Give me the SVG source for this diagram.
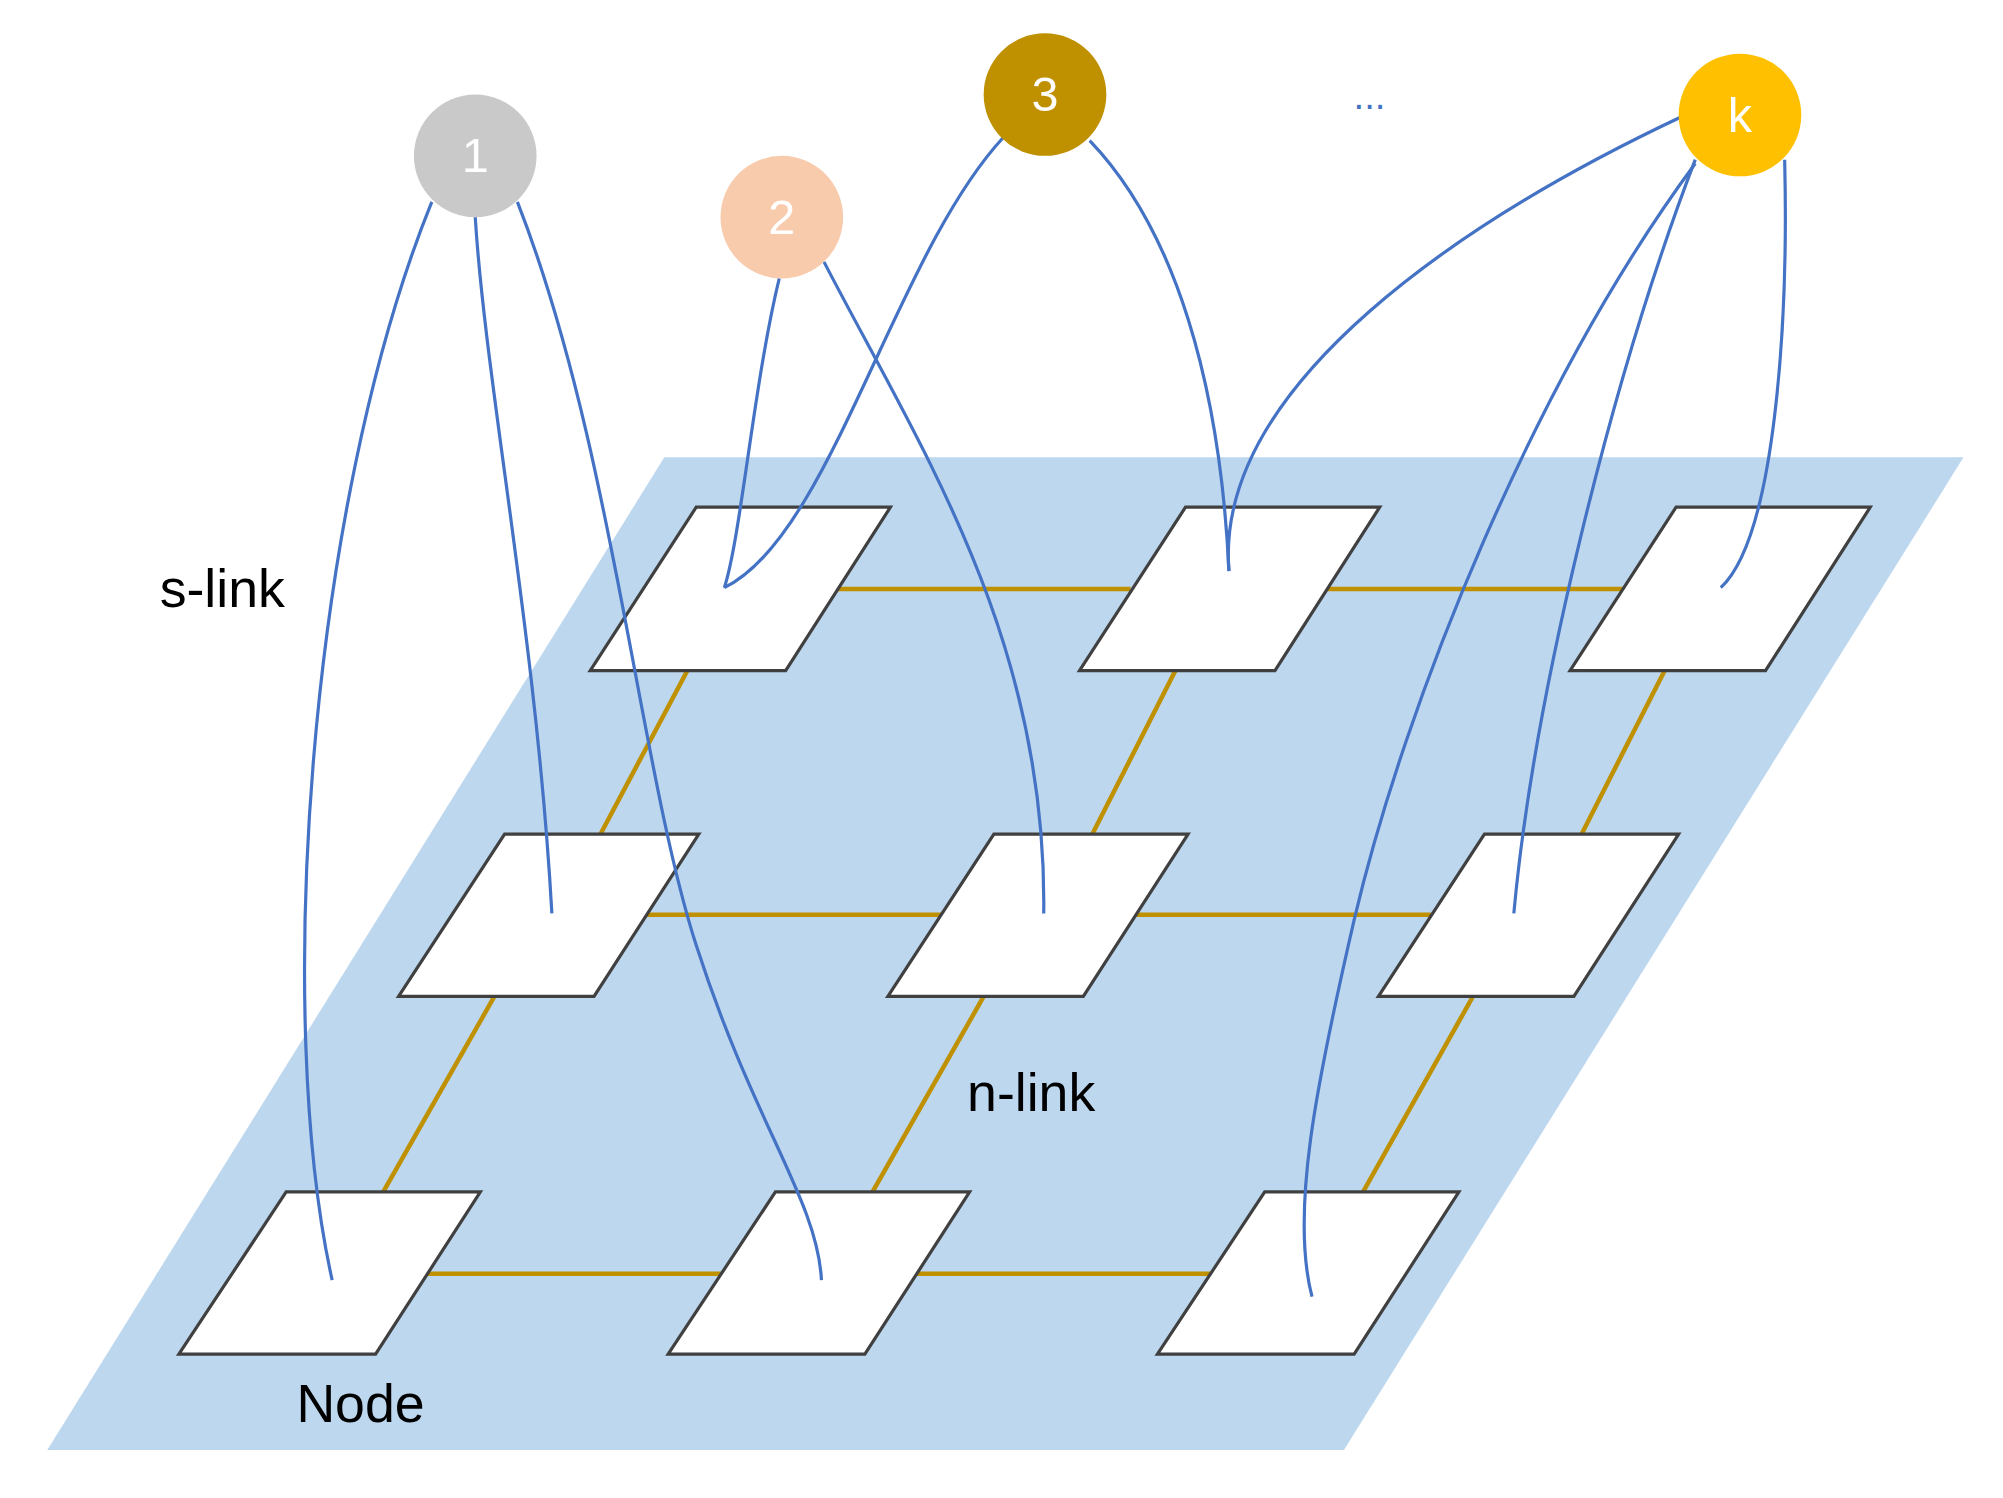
<svg xmlns="http://www.w3.org/2000/svg" width="2003" height="1498" viewBox="0 0 2003 1498">
<style>
.tile{fill:#fff;stroke:#404040;stroke-width:2.5}
.n{stroke:#BF9000;stroke-width:3.5;fill:none}
.s{stroke:#4472C4;stroke-width:2.5;fill:none}
.lbl{font-family:"Liberation Sans",Arial,sans-serif;font-size:42px;fill:#000}
.cl{font-family:"Liberation Sans",Arial,sans-serif;font-size:38px;fill:#fff;text-anchor:middle}
</style>
<rect width="2003" height="1498" fill="#fff"/>
<g transform="scale(1.2775)">
<polygon id="plane" points="520,358 1537,358 1052,1135 37,1135" fill="#BDD7EE"/>
<g id="nlinks">
<line class="n" x1="655" y1="461" x2="885" y2="461"/><line class="n" x1="1037" y1="461" x2="1270" y2="461"/>
<line class="n" x1="505" y1="716" x2="738" y2="716"/><line class="n" x1="887" y1="716" x2="1120" y2="716"/>
<line class="n" x1="333" y1="997" x2="567" y2="997"/><line class="n" x1="716" y1="997" x2="950" y2="997"/>
<line class="n" x1="538" y1="525" x2="470" y2="653"/><line class="n" x1="920" y1="525" x2="855" y2="653"/><line class="n" x1="1303" y1="525" x2="1238" y2="653"/>
<line class="n" x1="387" y1="780" x2="300" y2="933"/><line class="n" x1="770" y1="780" x2="683" y2="933"/><line class="n" x1="1153" y1="780" x2="1067" y2="933"/>
</g>
<g id="tiles">
<polygon id="t11" class="tile" points="545,397 697,397 615,525 462,525"/>
<polygon id="t12" class="tile" points="928,397 1080,397 998,525 845,525"/>
<polygon id="t13" class="tile" points="1312,397 1464,397 1382,525 1229,525"/>
<polygon id="t21" class="tile" points="395,653 547,653 465,780 312,780"/>
<polygon id="t22" class="tile" points="778,653 930,653 848,780 695,780"/>
<polygon id="t23" class="tile" points="1162,653 1314,653 1232,780 1079,780"/>
<polygon id="t31" class="tile" points="224,933 376,933 294,1060 140,1060"/>
<polygon id="t32" class="tile" points="607,933 759,933 677,1060 523,1060"/>
<polygon id="t33" class="tile" points="990,933 1142,933 1060,1060 906,1060"/>
</g>
<g id="slinks">
<path class="s" d="M338,158 C240,400 215,800 260,1002"/>
<path class="s" d="M372,170 C380,300 420,500 432,715"/>
<path class="s" d="M405,158 C480,350 500,600 545,740 C590,880 640,940 643,1002"/>
<path class="s" d="M610,218 C590,300 580,420 567,460"/>
<path class="s" d="M645,205 C720,350 820,500 817,715"/>
<path class="s" d="M785,108 C700,200 650,420 567,460"/>
<path class="s" d="M853,110 C920,180 955,300 962,447"/>
<path class="s" d="M1315,92 C1150,170 950,300 962,447"/>
<path class="s" d="M1327,128 C1200,300 1100,550 1060,720 C1030,850 1010,950 1027,1015"/>
<path class="s" d="M1327,125 C1260,300 1200,550 1185,715"/>
<path class="s" d="M1397,125 C1400,250 1390,420 1347,460"/>
</g>
<g id="c1"><circle cx="372" cy="122" r="48" fill="#C9C9C9"/><text class="cl" x="372" y="135">1</text></g>
<g id="c2"><circle cx="612" cy="170" r="48" fill="#F8CBAD"/><text class="cl" x="612" y="183">2</text></g>
<g id="c3"><circle cx="818" cy="74" r="48" fill="#BF9000"/><text class="cl" x="818" y="87">3</text></g>
<g id="ck"><circle cx="1362" cy="90" r="48" fill="#FFC000"/><text class="cl" x="1362" y="103">k</text></g>
<text x="1072" y="85" font-family="Liberation Sans,sans-serif" font-size="30" fill="#4472C4" text-anchor="middle">...</text>
<text class="lbl" x="125" y="475">s-link</text>
<text class="lbl" x="757" y="870">n-link</text>
<text class="lbl" x="232" y="1113">Node</text>
</g>
</svg>
